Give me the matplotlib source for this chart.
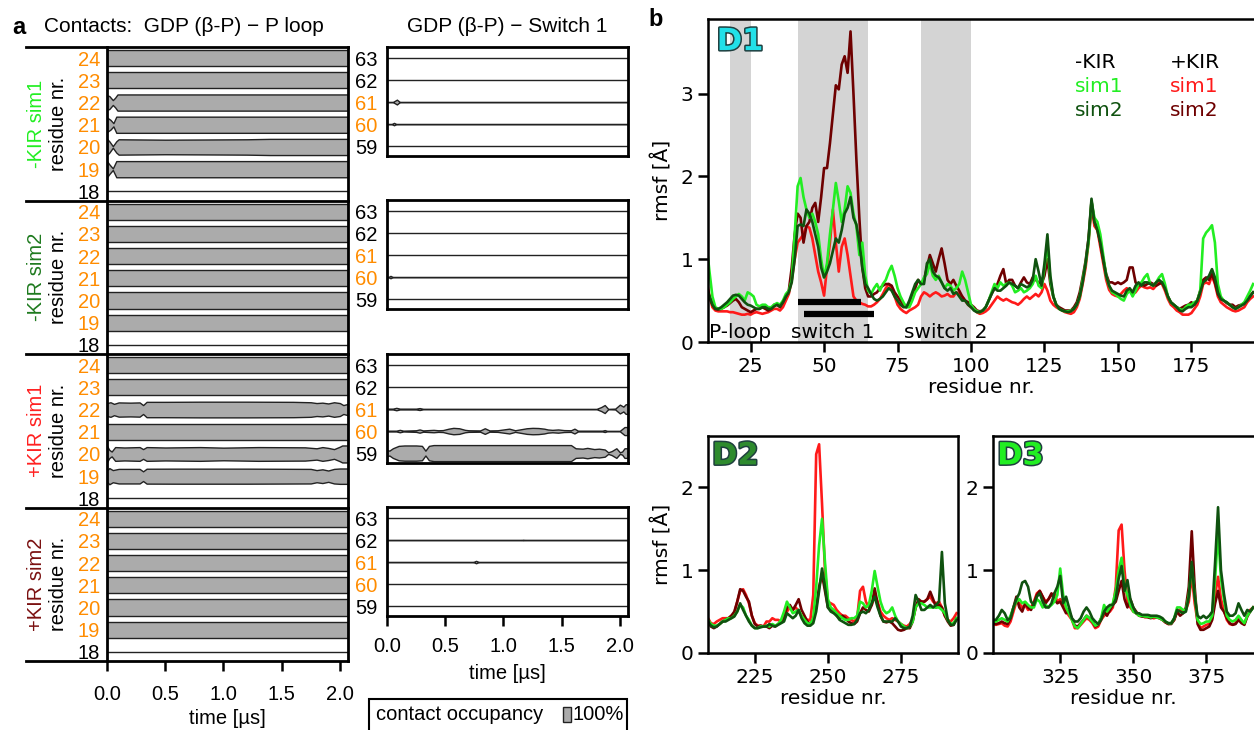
import numpy as np
import matplotlib
matplotlib.use('Agg')
import matplotlib.pyplot as plt
from matplotlib.lines import Line2D
from matplotlib.patches import Rectangle
import matplotlib.patheffects as pe

# ---------------- DATA: panel a (contact occupancy, knots: time [us], occupancy) -------------
PLOOP_RES = [18, 19, 20, 21, 22, 23, 24]
SWITCH_RES = [59, 60, 61, 62, 63]
ORANGE_RES = [19, 20, 21, 22, 23, 24, 60, 61]
GROUP_NAMES = ['-KIR sim1', '-KIR sim2', '+KIR sim1', '+KIR sim2']
GROUP_COLORS = ['#22ee22', '#1e7a1e', '#ff2020', '#7a1010']
TIME_TICKS = [0.0, 0.5, 1.0, 1.5, 2.0]

FULL = ([0.0, 2.07], [1.0, 1.0])
NONE = ([0.0, 2.07], [0.0, 0.0])

ploop_m_sim1 = {
    24: FULL, 23: FULL,
    22: ([0, 0.02, 0.05, 0.07, 0.09, 2.07], [0.9, 0.8, 0.3, 0.6, 1.0, 1.0]),
    21: ([0, 0.03, 0.055, 0.08, 2.07], [0.9, 0.6, 0.2, 1.0, 1.0]),
    20: ([0, 0.02, 0.05, 0.08, 0.1, 0.5, 0.8, 1.2, 1.4, 2.07],
         [1.0, 0.7, 0.1, 0.7, 0.95, 0.9, 0.92, 0.95, 1.0, 1.0]),
    19: ([0, 0.02, 0.05, 0.08, 2.07], [1.0, 0.6, 0.1, 1.0, 1.0]),
    18: NONE,
}
switch_m_sim1 = {
    63: NONE, 62: NONE,
    61: ([0, 0.05, 0.085, 0.11, 2.07], [0, 0, 0.3, 0, 0]),
    60: ([0, 0.04, 0.06, 0.08, 2.07], [0, 0, 0.15, 0, 0]),
    59: NONE,
}
ploop_m_sim2 = {24: FULL, 23: FULL, 22: FULL, 21: FULL, 20: FULL, 19: FULL, 18: NONE}
switch_m_sim2 = {
    63: NONE, 62: NONE, 61: NONE,
    60: ([0, 0.01, 0.03, 0.05, 2.07], [0, 0, 0.15, 0, 0]),
    59: NONE,
}
ploop_p_sim1 = {
    24: FULL, 23: FULL,
    22: ([0, 0.03, 0.06, 0.1, 0.2, 0.28, 0.31, 0.34, 0.5, 0.8, 1.2, 1.6, 1.75, 1.8, 1.85, 1.9,
          1.95, 2.0, 2.03, 2.07],
         [0.8, 0.9, 0.7, 0.88, 0.85, 0.88, 0.55, 0.95, 0.95, 0.97, 0.97, 0.95, 0.9, 0.8, 0.85,
          0.75, 0.9, 0.8, 0.55, 0.7]),
    21: ([0, 2.07], [0.97, 0.97]),
    20: ([0, 0.02, 0.04, 0.07, 0.15, 0.28, 0.31, 0.34, 0.5, 0.8, 1.0, 1.3, 1.7, 1.8, 1.85, 1.9,
          1.95, 2.0, 2.02, 2.07],
         [1.0, 0.5, 0.3, 0.85, 0.8, 0.85, 0.6, 0.85, 0.8, 0.85, 0.78, 0.85, 0.82, 0.7, 0.85,
          0.75, 0.6, 0.9, 1.05, 1.05]),
    19: ([0, 0.02, 0.05, 0.1, 0.28, 0.31, 0.34, 0.6, 1.2, 1.75, 1.8, 1.85, 1.9, 1.95, 2.0, 2.07],
         [0.7, 1.0, 0.75, 0.9, 0.9, 0.6, 0.92, 0.93, 0.93, 0.9, 0.75, 0.85, 0.7, 0.9, 0.95, 0.95]),
    18: NONE,
}
switch_p_sim1 = {
    63: NONE, 62: NONE,
    61: ([0, 0.05, 0.08, 0.11, 0.25, 0.28, 0.31, 1.8, 1.84, 1.87, 1.9, 1.96, 2.0, 2.03, 2.05, 2.07],
         [0.05, 0.05, 0.15, 0.05, 0.05, 0.12, 0.03, 0.02, 0.25, 0.5, 0.02, 0.05, 0.55, 0.3, 0.6, 0.6]),
    60: ([0, 0.08, 0.11, 0.14, 0.25, 0.28, 0.31, 0.36, 0.4, 0.44, 0.48, 0.53, 0.57, 0.62, 0.67,
          0.7, 0.8, 0.84, 0.88, 0.95, 1.0, 1.05, 1.1, 1.14, 1.2, 1.25, 1.3, 1.35, 1.38, 1.42,
          1.47, 1.52, 1.58, 1.61, 1.64, 1.85, 1.87, 1.89, 2.0, 2.04, 2.07],
         [0.05, 0.05, 0.15, 0.05, 0.1, 0.2, 0.08, 0.12, 0.15, 0.1, 0.12, 0.3, 0.4, 0.35, 0.15,
          0.1, 0.08, 0.35, 0.08, 0.1, 0.2, 0.3, 0.1, 0.2, 0.35, 0.4, 0.38, 0.3, 0.2, 0.15,
          0.2, 0.12, 0.1, 0.3, 0.05, 0.05, 0.12, 0.03, 0.03, 0.5, 0.5]),
    59: ([0, 0.02, 0.05, 0.1, 0.15, 0.25, 0.3, 0.33, 0.36, 0.4, 0.8, 1.2, 1.58, 1.62, 1.68,
          1.72, 1.78, 1.82, 1.87, 1.9, 1.93, 1.97, 2.0, 2.02, 2.04, 2.07],
         [0.4, 0.3, 0.6, 0.9, 0.95, 0.95, 0.9, 0.3, 0.9, 1.0, 1.0, 1.0, 1.0, 0.6, 0.55,
          0.65, 0.5, 0.55, 0.45, 0.1, 0.25, 0.6, 0.1, 0.2, 0.6, 0.6]),
}
ploop_p_sim2 = {24: FULL, 23: FULL, 22: FULL, 21: FULL, 20: FULL, 19: FULL, 18: NONE}
switch_p_sim2 = {
    63: NONE,
    62: ([0, 1.15, 1.17, 1.19, 2.07], [0, 0, 0.04, 0, 0]),
    61: ([0, 0.74, 0.765, 0.79, 2.07], [0, 0, 0.15, 0, 0]),
    60: NONE, 59: NONE,
}
PLOOP_DATA = [ploop_m_sim1, ploop_m_sim2, ploop_p_sim1, ploop_p_sim2]
SWITCH_DATA = [switch_m_sim1, switch_m_sim2, switch_p_sim1, switch_p_sim2]

# ---------------- DATA: panel b (rmsf per residue) -------------
D1_START = 10
d1_m_sim1 = [1.18, 0.85, 0.55, 0.42, 0.40, 0.40, 0.42, 0.45, 0.48, 0.52,
             0.55, 0.58, 0.55, 0.50, 0.60, 0.58, 0.55, 0.45, 0.43, 0.45,
             0.45, 0.42, 0.42, 0.45, 0.47, 0.45, 0.50, 0.58, 0.62, 0.75,
             1.30, 1.88, 1.98, 1.75, 1.60, 1.50, 1.55, 1.45, 1.30, 1.00,
             0.78, 0.95, 1.30, 1.60, 1.92, 1.70, 1.45, 1.60, 1.88, 1.80,
             1.55, 1.40, 1.05, 1.20, 0.80, 0.62, 0.58, 0.65, 0.70, 0.62,
             0.70, 0.75, 0.85, 0.92, 0.80, 0.65, 0.55, 0.48, 0.42, 0.42,
             0.50, 0.60, 0.65, 0.70, 0.78, 0.82, 0.95, 0.80, 0.75, 0.80,
             0.72, 0.65, 0.70, 0.68, 0.62, 0.65, 0.70, 0.85, 0.75, 0.60,
             0.45, 0.40, 0.37, 0.36, 0.38, 0.42, 0.50, 0.60, 0.70, 0.65,
             0.72, 0.68, 0.70, 0.72, 0.68, 0.60, 0.62, 0.65, 0.60, 0.62,
             0.65, 0.70, 0.80, 0.68, 0.65, 0.90, 1.20, 0.75, 0.55, 0.45,
             0.40, 0.38, 0.37, 0.37, 0.38, 0.40, 0.45, 0.55, 0.75, 0.95,
             1.20, 1.70, 1.50, 1.45, 1.30, 1.05, 0.80, 0.68, 0.60, 0.58,
             0.55, 0.52, 0.50, 0.58, 0.62, 0.55, 0.62, 0.70, 0.72, 0.78,
             0.82, 0.70, 0.68, 0.72, 0.78, 0.82, 0.70, 0.55, 0.48, 0.45,
             0.42, 0.40, 0.38, 0.42, 0.45, 0.45, 0.48, 0.50, 0.62, 1.25,
             1.32, 1.36, 1.41, 1.20, 0.70, 0.55, 0.50, 0.48, 0.45, 0.42,
             0.40, 0.42, 0.45, 0.48, 0.55, 0.62, 0.70]
d1_m_sim2 = [0.65, 0.55, 0.45, 0.40, 0.40, 0.42, 0.45, 0.48, 0.52, 0.56,
             0.57, 0.56, 0.52, 0.48, 0.45, 0.44, 0.42, 0.40, 0.40, 0.42,
             0.42, 0.40, 0.40, 0.43, 0.45, 0.43, 0.48, 0.55, 0.60, 0.72,
             1.00, 1.40, 1.42, 1.40, 1.60, 1.55, 1.45, 1.30, 1.15, 0.90,
             0.78, 0.85, 0.95, 1.10, 1.25, 1.20, 1.35, 1.55, 1.62, 1.75,
             1.50, 1.42, 1.20, 0.90, 0.70, 0.65, 0.58, 0.52, 0.50, 0.52,
             0.55, 0.60, 0.65, 0.62, 0.55, 0.50, 0.45, 0.42, 0.42, 0.50,
             0.60, 0.70, 0.75, 0.70, 0.70, 0.95, 1.00, 0.85, 0.80, 0.78,
             0.72, 0.65, 0.62, 0.65, 0.58, 0.60, 0.55, 0.50, 0.50, 0.45,
             0.42, 0.38, 0.36, 0.36, 0.38, 0.42, 0.50, 0.58, 0.65, 0.62,
             0.62, 0.65, 0.68, 0.72, 0.70, 0.68, 0.65, 0.70, 0.68, 0.66,
             0.68, 0.75, 1.00, 0.85, 0.68, 0.95, 1.30, 0.80, 0.55, 0.45,
             0.40, 0.38, 0.37, 0.36, 0.37, 0.40, 0.45, 0.55, 0.72, 0.95,
             1.25, 1.73, 1.45, 1.35, 1.20, 1.00, 0.80, 0.68, 0.62, 0.60,
             0.58, 0.56, 0.55, 0.62, 0.65, 0.60, 0.68, 0.72, 0.68, 0.72,
             0.72, 0.70, 0.68, 0.72, 0.75, 0.72, 0.65, 0.55, 0.48, 0.45,
             0.42, 0.38, 0.37, 0.40, 0.42, 0.42, 0.45, 0.50, 0.60, 0.72,
             0.75, 0.80, 0.88, 0.78, 0.60, 0.52, 0.50, 0.48, 0.45, 0.42,
             0.40, 0.42, 0.44, 0.46, 0.50, 0.55, 0.60]
d1_p_sim1 = [0.75, 0.55, 0.42, 0.38, 0.37, 0.37, 0.37, 0.37, 0.36, 0.36,
             0.35, 0.34, 0.33, 0.33, 0.34, 0.33, 0.35, 0.36, 0.35, 0.34,
             0.35, 0.36, 0.38, 0.40, 0.40, 0.38, 0.42, 0.50, 0.58, 0.75,
             1.00, 1.20, 1.25, 1.30, 1.40, 1.38, 1.25, 1.05, 0.85, 0.72,
             0.56, 0.90, 1.20, 1.60, 1.20, 0.85, 1.15, 1.25, 1.05, 0.80,
             0.55, 0.50, 0.48, 0.46, 0.45, 0.43, 0.43, 0.45, 0.48, 0.52,
             0.58, 0.65, 0.70, 0.65, 0.55, 0.45, 0.40, 0.37, 0.35, 0.38,
             0.40, 0.42, 0.45, 0.55, 0.60, 0.58, 0.55, 0.58, 0.60, 0.58,
             0.55, 0.56, 0.58, 0.55, 0.55, 0.60, 0.58, 0.55, 0.50, 0.45,
             0.42, 0.40, 0.36, 0.34, 0.35, 0.37, 0.40, 0.45, 0.50, 0.55,
             0.52, 0.50, 0.52, 0.50, 0.48, 0.47, 0.45, 0.48, 0.52, 0.55,
             0.52, 0.55, 0.58, 0.55, 0.60, 0.70, 0.62, 0.50, 0.45, 0.42,
             0.40, 0.38, 0.36, 0.35, 0.34, 0.36, 0.42, 0.52, 0.70, 0.90,
             1.20, 1.65, 1.40, 1.35, 1.15, 0.95, 0.75, 0.63, 0.58, 0.56,
             0.55, 0.58, 0.62, 0.65, 0.62, 0.58, 0.60, 0.65, 0.68, 0.66,
             0.65, 0.66, 0.64, 0.68, 0.72, 0.70, 0.62, 0.52, 0.45, 0.42,
             0.38, 0.36, 0.33, 0.33, 0.33, 0.35, 0.40, 0.45, 0.55, 0.70,
             0.72, 0.70, 0.80, 0.70, 0.55, 0.48, 0.45, 0.42, 0.40, 0.38,
             0.37, 0.38, 0.40, 0.42, 0.48, 0.52, 0.55]
d1_p_sim2 = [0.70, 0.55, 0.45, 0.40, 0.39, 0.40, 0.42, 0.44, 0.47, 0.50,
             0.52, 0.48, 0.42, 0.40, 0.38, 0.36, 0.38, 0.40, 0.40, 0.42,
             0.40, 0.38, 0.40, 0.45, 0.45, 0.42, 0.48, 0.55, 0.62, 0.90,
             1.30, 1.55, 1.50, 1.20, 1.40, 1.45, 1.62, 1.68, 1.45, 1.75,
             2.10, 2.10, 2.40, 2.75, 3.10, 3.05, 3.35, 3.45, 3.25, 3.75,
             3.00, 2.20, 1.50, 0.90, 0.65, 0.55, 0.55, 0.58, 0.60, 0.65,
             0.68, 0.70, 0.70, 0.68, 0.60, 0.55, 0.50, 0.45, 0.42, 0.45,
             0.55, 0.65, 0.75, 0.70, 0.75, 0.90, 1.05, 0.95, 0.85, 1.00,
             1.13, 0.95, 0.75, 0.70, 0.75, 0.68, 0.62, 0.55, 0.50, 0.48,
             0.45, 0.42, 0.38, 0.37, 0.38, 0.42, 0.50, 0.58, 0.65, 0.70,
             0.80, 0.88, 0.70, 0.75, 0.75, 0.68, 0.65, 0.72, 0.78, 0.72,
             0.70, 0.78, 0.75, 0.72, 0.70, 0.80, 1.00, 0.70, 0.55, 0.45,
             0.42, 0.40, 0.38, 0.38, 0.38, 0.42, 0.48, 0.60, 0.78, 0.98,
             1.25, 1.70, 1.45, 1.38, 1.20, 1.00, 0.82, 0.72, 0.72, 0.70,
             0.72, 0.70, 0.72, 0.75, 0.90, 0.90, 0.72, 0.68, 0.70, 0.68,
             0.70, 0.72, 0.70, 0.68, 0.70, 0.72, 0.65, 0.55, 0.48, 0.45,
             0.42, 0.40, 0.42, 0.44, 0.45, 0.48, 0.45, 0.50, 0.62, 0.75,
             0.78, 0.75, 0.82, 0.72, 0.58, 0.52, 0.50, 0.47, 0.45, 0.45,
             0.42, 0.44, 0.45, 0.47, 0.52, 0.56, 0.60]

D2_START = 209
d2_m_sim1 = [0.40, 0.35, 0.33, 0.33, 0.35, 0.38, 0.40, 0.42, 0.42, 0.45,
             0.50, 0.58, 0.55, 0.45, 0.40, 0.33, 0.30, 0.30, 0.32, 0.32,
             0.33, 0.32, 0.35, 0.33, 0.35, 0.40, 0.50, 0.62, 0.55, 0.48,
             0.50, 0.52, 0.45, 0.40, 0.36, 0.35, 0.42, 0.80, 1.30, 1.62,
             1.10, 0.65, 0.55, 0.52, 0.48, 0.45, 0.42, 0.40, 0.40, 0.42,
             0.42, 0.45, 0.62, 0.60, 0.55, 0.58, 0.75, 0.99, 0.80, 0.62,
             0.52, 0.48, 0.50, 0.55, 0.45, 0.38, 0.35, 0.32, 0.30, 0.32,
             0.38, 0.55, 0.60, 0.60, 0.58, 0.55, 0.55, 0.55, 0.55, 0.55,
             0.52, 0.48, 0.40, 0.35, 0.36, 0.42]
d2_m_sim2 = [0.38, 0.33, 0.31, 0.32, 0.35, 0.38, 0.38, 0.40, 0.42, 0.44,
             0.50, 0.60, 0.52, 0.45, 0.38, 0.33, 0.30, 0.30, 0.31, 0.32,
             0.32, 0.35, 0.33, 0.32, 0.34, 0.36, 0.38, 0.48, 0.45, 0.42,
             0.45, 0.52, 0.42, 0.36, 0.33, 0.33, 0.36, 0.50, 0.75, 1.02,
             0.80, 0.55, 0.50, 0.48, 0.45, 0.40, 0.38, 0.36, 0.34, 0.34,
             0.35, 0.40, 0.48, 0.50, 0.48, 0.52, 0.60, 0.68, 0.55, 0.45,
             0.38, 0.38, 0.38, 0.38, 0.42, 0.38, 0.32, 0.30, 0.30, 0.32,
             0.45, 0.70, 0.62, 0.52, 0.52, 0.55, 0.58, 0.55, 0.58, 0.62,
             1.22, 0.60, 0.40, 0.34, 0.34, 0.40]
d2_p_sim1 = [0.42, 0.36, 0.35, 0.38, 0.40, 0.42, 0.42, 0.42, 0.45, 0.48,
             0.62, 0.75, 0.77, 0.70, 0.60, 0.45, 0.36, 0.33, 0.33, 0.32,
             0.38, 0.38, 0.42, 0.40, 0.40, 0.38, 0.42, 0.50, 0.55, 0.52,
             0.55, 0.50, 0.45, 0.42, 0.40, 0.40, 0.70, 2.40, 2.52, 1.80,
             1.00, 0.62, 0.60, 0.58, 0.52, 0.48, 0.45, 0.45, 0.42, 0.40,
             0.38, 0.42, 0.75, 0.80, 0.62, 0.55, 0.58, 0.70, 0.62, 0.50,
             0.45, 0.42, 0.40, 0.42, 0.40, 0.38, 0.35, 0.33, 0.32, 0.35,
             0.40, 0.55, 0.62, 0.62, 0.62, 0.65, 0.68, 0.62, 0.60, 0.62,
             0.55, 0.45, 0.40, 0.38, 0.42, 0.48]
d2_p_sim2 = [0.38, 0.32, 0.30, 0.32, 0.35, 0.38, 0.40, 0.42, 0.45, 0.50,
             0.62, 0.77, 0.75, 0.68, 0.62, 0.45, 0.35, 0.32, 0.33, 0.32,
             0.32, 0.30, 0.33, 0.32, 0.35, 0.38, 0.42, 0.55, 0.58, 0.52,
             0.58, 0.65, 0.52, 0.45, 0.38, 0.35, 0.40, 0.55, 0.80, 0.95,
             0.75, 0.55, 0.52, 0.50, 0.45, 0.42, 0.45, 0.42, 0.38, 0.36,
             0.35, 0.38, 0.48, 0.55, 0.52, 0.50, 0.58, 0.78, 0.60, 0.45,
             0.38, 0.37, 0.38, 0.36, 0.32, 0.28, 0.27, 0.28, 0.30, 0.30,
             0.38, 0.55, 0.65, 0.62, 0.62, 0.65, 0.74, 0.65, 0.55, 0.58,
             0.55, 0.45, 0.38, 0.33, 0.34, 0.42]

D3_START = 302
d3_m_sim1 = [0.38, 0.38, 0.40, 0.42, 0.40, 0.38, 0.45, 0.55, 0.62, 0.65,
             0.60, 0.62, 0.58, 0.55, 0.55, 0.65, 0.62, 0.55, 0.58, 0.55,
             0.58, 0.62, 0.70, 1.02, 0.70, 0.55, 0.48, 0.40, 0.32, 0.30,
             0.35, 0.40, 0.45, 0.42, 0.38, 0.33, 0.35, 0.42, 0.58, 0.50,
             0.55, 0.60, 0.75, 1.00, 1.15, 0.80, 0.70, 0.58, 0.50, 0.48,
             0.45, 0.45, 0.44, 0.44, 0.43, 0.44, 0.43, 0.42, 0.40, 0.38,
             0.36, 0.36, 0.42, 0.55, 0.55, 0.52, 0.52, 0.70, 1.05, 0.70,
             0.40, 0.35, 0.36, 0.38, 0.38, 0.45, 0.90, 1.45, 0.90, 0.65,
             0.45, 0.40, 0.38, 0.40, 0.45, 0.40, 0.36, 0.45, 0.50, 0.55]
d3_m_sim2 = [0.40, 0.40, 0.45, 0.52, 0.48, 0.40, 0.42, 0.55, 0.65, 0.72,
             0.85, 0.87, 0.80, 0.62, 0.58, 0.68, 0.72, 0.62, 0.55, 0.55,
             0.60, 0.72, 0.80, 0.93, 0.60, 0.68, 0.55, 0.42, 0.38, 0.38,
             0.42, 0.50, 0.55, 0.50, 0.42, 0.38, 0.35, 0.40, 0.50, 0.55,
             0.58, 0.58, 0.65, 0.90, 1.05, 0.75, 0.88, 0.65, 0.55, 0.48,
             0.48, 0.46, 0.46, 0.46, 0.45, 0.45, 0.45, 0.44, 0.42, 0.38,
             0.36, 0.36, 0.42, 0.52, 0.50, 0.48, 0.50, 0.68, 1.10, 0.68,
             0.45, 0.42, 0.45, 0.42, 0.45, 0.50, 1.10, 1.76, 1.00, 0.72,
             0.50, 0.45, 0.45, 0.48, 0.60, 0.52, 0.45, 0.52, 0.50, 0.55]
d3_p_sim1 = [0.35, 0.34, 0.35, 0.36, 0.33, 0.32, 0.38, 0.50, 0.62, 0.60,
             0.55, 0.58, 0.52, 0.55, 0.62, 0.72, 0.75, 0.68, 0.62, 0.65,
             0.70, 0.72, 0.62, 0.65, 0.58, 0.50, 0.45, 0.40, 0.30, 0.30,
             0.34, 0.38, 0.42, 0.40, 0.36, 0.30, 0.32, 0.40, 0.45, 0.48,
             0.50, 0.55, 0.80, 1.48, 1.55, 1.00, 0.62, 0.55, 0.50, 0.48,
             0.45, 0.45, 0.43, 0.44, 0.43, 0.42, 0.43, 0.42, 0.40, 0.37,
             0.35, 0.36, 0.40, 0.50, 0.52, 0.50, 0.52, 0.62, 0.95, 0.60,
             0.38, 0.30, 0.32, 0.34, 0.35, 0.42, 0.70, 0.92, 0.65, 0.52,
             0.40, 0.35, 0.34, 0.36, 0.42, 0.38, 0.35, 0.45, 0.52, 0.55]
d3_p_sim2 = [0.36, 0.35, 0.36, 0.38, 0.36, 0.35, 0.42, 0.55, 0.68, 0.55,
             0.50, 0.60, 0.55, 0.52, 0.60, 0.70, 0.75, 0.68, 0.60, 0.65,
             0.72, 0.65, 0.60, 0.62, 0.55, 0.48, 0.50, 0.42, 0.33, 0.32,
             0.36, 0.40, 0.45, 0.42, 0.38, 0.32, 0.34, 0.42, 0.50, 0.45,
             0.52, 0.58, 0.62, 0.75, 0.87, 0.65, 0.55, 0.65, 0.55, 0.50,
             0.45, 0.44, 0.44, 0.43, 0.42, 0.44, 0.43, 0.42, 0.40, 0.37,
             0.35, 0.35, 0.40, 0.50, 0.45, 0.48, 0.55, 0.80, 1.47, 0.80,
             0.35, 0.28, 0.28, 0.30, 0.32, 0.40, 0.60, 0.75, 0.55, 0.50,
             0.42, 0.36, 0.34, 0.35, 0.40, 0.36, 0.34, 0.44, 0.50, 0.55]

SERIES_LABELS = ['+KIR sim1', '+KIR sim2', '-KIR sim1', '-KIR sim2']
SERIES_COLORS = ['#ff1a1a', '#6e0000', '#22ee22', '#0f520f']
D1_SPANS = [(18, 25), (41, 65), (83, 100)]
D1_SPAN_LABELS = [('P-loop', 10.7, 'left'), ('switch 1', 53, 'center'), ('switch 2', 91.5, 'center')]
SWITCH1_BARS = [(41, 62.5, 0.48), (43, 67, 0.34)]

# ---------------- FIGURE -------------
W, H = 1254, 730
fig = plt.figure(figsize=(W / 100, H / 100), dpi=100)
FA = 'Liberation Sans'
FB = 'DejaVu Sans'
SA = 14.5   # panel a font size
SB = 14.5   # panel b font size


def fax(x0, y0, x1, y1):
    return fig.add_axes([x0 / W, 1 - y1 / H, (x1 - x0) / W, (y1 - y0) / H])


def fy(y):
    return 1 - y / H


BAND = 0.364
GREY = '#ababab'
EDGE = '#222222'


def draw_rows(ax, residues, data):
    for i, r in enumerate(residues):
        t, occ = data[r]
        t = np.asarray(t, float)
        occ = np.asarray(occ, float)
        ax.fill_between(t, i - BAND * occ, i + BAND * occ, facecolor=GREY,
                        edgecolor=EDGE, linewidth=1.0)
    ax.set_yticks(range(len(residues)))
    ax.set_yticklabels([str(r) for r in residues], fontsize=SA, family=FA)
    for lab, r in zip(ax.get_yticklabels(), residues):
        lab.set_color('#ff8c00' if r in ORANGE_RES else 'black')


group_h = 153.5
group_top0 = 47
for g in range(4):
    top = group_top0 + group_h * g
    axL = fax(107, top, 348, top + group_h)
    axL.set_xlim(0, 2.07)
    axL.set_ylim(-0.41, 6.5)
    draw_rows(axL, PLOOP_RES, PLOOP_DATA[g])
    axL.tick_params(axis='y', length=0, pad=5)
    for s in ['top', 'bottom']:
        axL.spines[s].set_visible(False)
    for s in ['left', 'right']:
        axL.spines[s].set_linewidth(2.0)
    if g == 3:
        axL.set_xticks(TIME_TICKS)
        axL.set_xticklabels([f'{v:.1f}' for v in TIME_TICKS], fontsize=SA, family=FA)
        axL.tick_params(axis='x', direction='out', length=7, width=1.8, pad=10)
        axL.set_xlabel('time [µs]', fontsize=SA, family=FA, labelpad=4)
    else:
        axL.set_xticks([])
    cy = fy(top + group_h / 2)
    fig.text(37 / W, cy, GROUP_NAMES[g], rotation=90, color=GROUP_COLORS[g],
             fontsize=SA, family=FA, ha='center', va='center')
    fig.text(59 / W, cy, 'residue nr.', rotation=90, color='black',
             fontsize=SA, family=FA, ha='center', va='center')

    rtop = [47, 200, 354, 507][g]
    axR = fax(387, rtop, 628, rtop + 109)
    axR.set_xlim(0, 2.07)
    axR.set_ylim(-0.45, 4.5)
    draw_rows(axR, SWITCH_RES, SWITCH_DATA[g])
    axR.tick_params(axis='y', length=0, pad=7)
    for s in axR.spines.values():
        s.set_linewidth(2.0)
    if g == 3:
        axR.set_xticks(TIME_TICKS)
        axR.set_xticklabels([f'{v:.1f}' for v in TIME_TICKS], fontsize=SA, family=FA)
        axR.tick_params(axis='x', direction='out', length=7, width=1.8, pad=8)
        axR.set_xlabel('time [µs]', fontsize=SA, family=FA, labelpad=6)
    else:
        axR.set_xticks([])

for g in range(5):
    y = fy(group_top0 + group_h * g)
    fig.add_artist(Line2D([26 / W, 348 / W], [y, y], color='black', lw=2.0))

fig.text(12 / W, fy(27), 'a', fontsize=17, weight='bold', family=FA, va='center')
fig.text(44 / W, fy(27), 'Contacts:  GDP (β-P) − P loop', fontsize=SA + 0.5, family=FA, va='center')
fig.text(507 / W, fy(27), 'GDP (β-P) − Switch 1', fontsize=SA + 0.5, family=FA,
         va='center', ha='center')

# legend box
fig.add_artist(Rectangle((369 / W, fy(745)), (627 - 369) / W, (745 - 699) / H,
                         transform=fig.transFigure, fill=False, lw=1.5, ec='black'))
fig.text(376 / W, fy(715), 'contact occupancy', fontsize=SA, family=FA, va='center')
fig.add_artist(Rectangle((563 / W, fy(722)), 8 / W, 15 / H, transform=fig.transFigure,
                         facecolor=GREY, edgecolor=EDGE, lw=1.0))
fig.text(572 / W, fy(715), '100%', fontsize=SA, family=FA, va='center')

# ---------------- panel b -------------
fig.text(648 / W, fy(20), 'b', fontsize=17, weight='bold', family=FA, va='center')


def rmsf_axes(ax, start, series, xlim, ylim, xticks, yticks):
    for vals, c in zip(series, SERIES_COLORS):
        x = np.arange(start, start + len(vals))
        ax.plot(x, vals, color=c, lw=1.9, solid_joinstyle='round')
    ax.set_xlim(*xlim)
    ax.set_ylim(*ylim)
    ax.set_xticks(xticks)
    ax.set_yticks(yticks)
    ax.tick_params(direction='out', length=7, width=1.8, labelsize=SB)
    for lab in ax.get_xticklabels() + ax.get_yticklabels():
        lab.set_family(FB)
    for s in ax.spines.values():
        s.set_linewidth(1.8)
    ax.set_xlabel('residue nr.', fontsize=SB, family=FB, labelpad=2)


def dlabel(ax, txt, color):
    ax.text(0.016, 0.975, txt, transform=ax.transAxes, fontsize=22, weight='bold',
            family=FB, color=color, va='top', ha='left',
            path_effects=[pe.withStroke(linewidth=2.2, foreground='#1f3f3f')])


axD1 = fax(708, 19, 1254, 342)
for a, b in D1_SPANS:
    axD1.axvspan(a, b, color='#d4d4d4', lw=0, zorder=0)
rmsf_axes(axD1, D1_START, [d1_p_sim1, d1_p_sim2, d1_m_sim1, d1_m_sim2],
          (10.5, 196.3), (0, 3.9), [25, 50, 75, 100, 125, 150, 175], [0, 1, 2, 3])
for x0, x1, y in SWITCH1_BARS:
    axD1.plot([x0, x1], [y, y], color='black', lw=4.5, solid_capstyle='butt')
for txt, x, ha in D1_SPAN_LABELS:
    axD1.text(x, 0.12, txt, fontsize=SB, family=FB, ha=ha, va='center')
axD1.spines['right'].set_visible(False)
axD1.set_ylabel('rmsf [Å]', fontsize=SB, family=FB, labelpad=6)
dlabel(axD1, 'D1', '#22e0e8')
# legend text block
lx1, lx2 = (1075 - 708) / 546, (1170 - 708) / 546
axD1.text(lx1, (342 - 62) / 323, '-KIR', transform=axD1.transAxes, fontsize=SB, family=FB, va='center')
axD1.text(lx2, (342 - 62) / 323, '+KIR', transform=axD1.transAxes, fontsize=SB, family=FB, va='center')
axD1.text(lx1, (342 - 86) / 323, 'sim1', transform=axD1.transAxes, fontsize=SB, family=FB,
          va='center', color=SERIES_COLORS[2])
axD1.text(lx1, (342 - 110) / 323, 'sim2', transform=axD1.transAxes, fontsize=SB, family=FB,
          va='center', color=SERIES_COLORS[3])
axD1.text(lx2, (342 - 86) / 323, 'sim1', transform=axD1.transAxes, fontsize=SB, family=FB,
          va='center', color=SERIES_COLORS[0])
axD1.text(lx2, (342 - 110) / 323, 'sim2', transform=axD1.transAxes, fontsize=SB, family=FB,
          va='center', color=SERIES_COLORS[1])

axD2 = fax(708, 436, 958, 653)
rmsf_axes(axD2, D2_START, [d2_p_sim1, d2_p_sim2, d2_m_sim1, d2_m_sim2],
          (209, 294.5), (0, 2.62), [225, 250, 275], [0, 1, 2])
axD2.set_ylabel('rmsf [Å]', fontsize=SB, family=FB, labelpad=6)
dlabel(axD2, 'D2', '#2e8b2e')

axD3 = fax(993, 436, 1254, 653)
rmsf_axes(axD3, D3_START, [d3_p_sim1, d3_p_sim2, d3_m_sim1, d3_m_sim2],
          (302, 391.3), (0, 2.62), [325, 350, 375], [0, 1, 2])
axD3.spines['right'].set_visible(False)
dlabel(axD3, 'D3', '#22ee22')

fig.savefig('out.png', dpi=100)
